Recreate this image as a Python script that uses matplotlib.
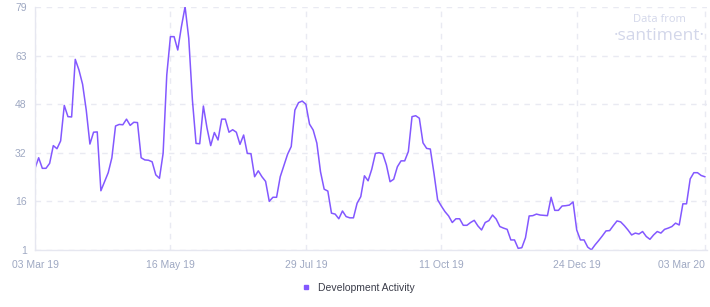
import pandas as pd
import matplotlib.pyplot as plt
import matplotlib.dates as mdates
from matplotlib.lines import Line2D

plt.rcParams["font.family"] = ["Liberation Sans", "DejaVu Sans"]

# Development Activity, one value every 2 days from 03 Mar 19
dev_activity = [
    27.2, 30.6, 27.2, 27.2, 28.8, 34.5, 33.5, 36.0, 47.4, 43.8, 43.7, 62.2, 58.8, 54.2, 45.9, 35.0,
    38.8, 38.9, 20.0, 22.9, 25.8, 30.6, 40.8, 41.3, 41.2, 43.0, 41.0, 42.0, 41.9, 30.6, 29.9, 29.8,
    29.3, 25.1, 24.0, 32.0, 57.2, 69.5, 69.5, 65.2, 72.7, 79.1, 69.0, 49.2, 35.2, 35.1, 47.2, 40.1,
    34.5, 38.7, 36.3, 43.0, 43.0, 38.8, 39.6, 38.8, 34.9, 37.9, 32.0, 31.9, 24.5, 26.4, 24.5, 23.0,
    16.6, 17.9, 17.9, 24.5, 28.1, 31.7, 34.2, 45.9, 48.3, 48.8, 47.8, 41.4, 39.5, 35.3, 26.1, 20.5,
    19.9, 12.8, 12.5, 11.0, 13.5, 11.7, 11.3, 11.3, 16.0, 18.1, 24.8, 23.2, 26.9, 32.0, 32.2, 31.9,
    28.3, 22.9, 23.7, 27.7, 29.6, 29.6, 32.6, 43.8, 44.1, 43.3, 35.4, 33.6, 33.4, 25.6, 17.1, 15.1,
    13.3, 11.9, 9.8, 11.0, 11.0, 8.9, 8.9, 9.8, 10.5, 8.7, 7.4, 9.8, 10.4, 12.2, 10.9, 8.5,
    8.0, 7.6, 4.2, 4.2, 1.5, 1.7, 4.9, 11.9, 12.0, 12.5, 12.2, 12.1, 12.0, 17.9, 13.7, 13.7,
    15.1, 15.2, 15.4, 16.4, 7.4, 4.2, 4.2, 1.9, 1.0, 2.6, 4.0, 5.5, 7.1, 7.2, 8.8, 10.3,
    10.0, 8.8, 7.4, 5.8, 6.4, 6.1, 6.9, 5.3, 4.4, 5.8, 6.9, 6.4, 7.6, 8.0, 8.5, 9.6,
    9.0, 15.8, 15.8, 23.8, 25.8, 25.8, 24.9, 24.5,
]
dates = pd.date_range("2019-03-03", periods=len(dev_activity), freq="2D")

x_ticks = pd.to_datetime(["2019-03-03", "2019-05-16", "2019-07-29", "2019-10-11", "2019-12-24", "2020-03-03"])
y_ticks = [1, 16.6, 32.2, 47.8, 63.4, 79]
y_labels = ["1", "16", "32", "48", "63", "79"]

line_color = "#8358ff"
tick_color = "#9ea8c2"
grid_color = "#e9eaf2"

fig = plt.figure(figsize=(7.1, 3.07), dpi=100)
ax = fig.add_axes([0.0493, 0.186, 0.946, 0.791])

ax.plot(dates, dev_activity, color=line_color, linewidth=1.1)

ax.set_xlim(pd.Timestamp("2019-03-03"), pd.Timestamp("2020-03-04"))
ax.set_ylim(1, 79)
ax.set_yticks(y_ticks)
ax.set_yticklabels(y_labels)
ax.set_xticks(x_ticks)
ax.xaxis.set_major_formatter(mdates.DateFormatter("%d %b %y"))

ax.grid(True, color=grid_color, linestyle=(0, (4, 4)), linewidth=1)
ax.tick_params(length=0, colors=tick_color, labelsize=7.5)
ax.tick_params(axis="y", pad=6)
ax.tick_params(axis="x", pad=7)
for side in ["top", "right"]:
    ax.spines[side].set_visible(False)
for side in ["left", "bottom"]:
    ax.spines[side].set_color("#e6e7f0")
    ax.spines[side].set_linewidth(1)

labels = ax.get_xticklabels()
labels[-1].set_ha("right")

# watermark
ax.text(0.93, 0.95, "Data from", transform=ax.transAxes, ha="center", va="center",
        fontsize=8, color="#d3d7ea", family=["Open Sans", "DejaVu Sans"])
ax.text(0.93, 0.88, "·santiment·", transform=ax.transAxes, ha="center", va="center",
        fontsize=12.5, color="#d3d7ea", family=["Open Sans", "DejaVu Sans"])

handle = Line2D([], [], color=line_color, marker="s", linestyle="none", markersize=3.5)
fig.legend([handle], ["Development Activity"], loc="center", bbox_to_anchor=(0.5, 0.062),
           frameon=False, fontsize=7.5, handletextpad=0.2, labelcolor="#3b3d4a")

fig.savefig("out.png", dpi=100)
